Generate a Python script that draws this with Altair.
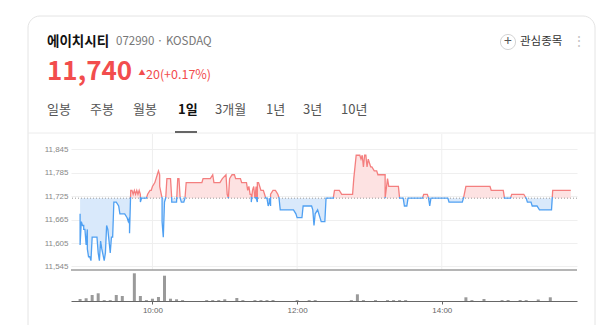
import altair as alt
import pandas as pd

# ---------------- data ----------------
stock_name = "에이치시티"
stock_code = "072990 · KOSDAQ"
last_price = "11,740"
change_text = "20(+0.17%)"
prev_close = 11720
tabs = ["일봉", "주봉", "월봉", "1일", "3개월", "1년", "3년", "10년"]

price_times = [
    "09:00", "09:00", "09:01", "09:02", "09:03", "09:03", "09:04", "09:05", "09:06", "09:06",
    "09:07", "09:08", "09:09", "09:10", "09:11", "09:14", "09:15", "09:16", "09:17", "09:18",
    "09:20", "09:21", "09:22", "09:23", "09:24", "09:25", "09:26", "09:27", "09:28", "09:29",
    "09:30", "09:32", "09:33", "09:37", "09:39", "09:40", "09:41", "09:41", "09:42", "09:43",
    "09:44", "09:45", "09:46", "09:47", "09:48", "09:49", "09:50", "09:50", "09:51", "09:52",
    "09:55", "09:56", "09:58", "09:59", "10:00", "10:02", "10:04", "10:05", "10:06", "10:06",
    "10:08", "10:08", "10:09", "10:10", "10:11", "10:12", "10:15", "10:16", "10:16", "10:20",
    "10:21", "10:22", "10:23", "10:24", "10:26", "10:27", "10:28", "10:41", "10:42", "10:48",
    "10:50", "10:51", "10:56", "10:58", "11:01", "11:02", "11:03", "11:04", "11:06", "11:08",
    "11:09", "11:13", "11:14", "11:18", "11:19", "11:20", "11:21", "11:22", "11:22", "11:23",
    "11:24", "11:25", "11:26", "11:26", "11:27", "11:27", "11:28", "11:29", "11:30", "11:32",
    "11:33", "11:34", "11:35", "11:36", "11:37", "11:37", "11:38", "11:38", "11:40", "11:42",
    "11:44", "11:45", "11:46", "11:48", "11:57", "11:59", "12:00", "12:04", "12:05", "12:12",
    "12:13", "12:14", "12:15", "12:17", "12:18", "12:20", "12:23", "12:24", "12:30", "12:31",
    "12:35", "12:37", "12:46", "12:47", "12:49", "12:50", "12:52", "12:53", "12:54", "12:55",
    "12:56", "12:57", "12:58", "12:59", "13:00", "13:01", "13:02", "13:04", "13:06", "13:07",
    "13:11", "13:12", "13:13", "13:13", "13:15", "13:16", "13:24", "13:25", "13:28", "13:29",
    "13:31", "13:32", "13:44", "13:45", "13:48", "13:49", "13:50", "13:51", "14:05", "14:06",
    "14:17", "14:18", "14:20", "14:40", "14:41", "14:51", "14:52", "14:57", "14:58", "15:08",
    "15:10", "15:11", "15:14", "15:15", "15:19", "15:21", "15:31", "15:32", "15:47",
]
prices = [
    11680, 11600, 11660, 11650, 11650, 11640, 11640, 11600, 11640, 11590,
    11570, 11570, 11560, 11620, 11620, 11620, 11580, 11560, 11610, 11590,
    11560, 11580, 11650, 11640, 11610, 11580, 11620, 11620, 11710, 11710,
    11710, 11700, 11680, 11680, 11670, 11660, 11670, 11630, 11740, 11740,
    11730, 11740, 11730, 11740, 11730, 11740, 11730, 11710, 11720, 11720,
    11720, 11730, 11740, 11740, 11750, 11760, 11780, 11790, 11780, 11750,
    11720, 11660, 11620, 11710, 11720, 11770, 11770, 11720, 11710, 11710,
    11770, 11770, 11720, 11710, 11710, 11720, 11760, 11760, 11770, 11770,
    11780, 11760, 11760, 11770, 11780, 11730, 11720, 11770, 11780, 11780,
    11770, 11770, 11760, 11760, 11740, 11750, 11730, 11730, 11710, 11740,
    11750, 11720, 11750, 11720, 11710, 11760, 11760, 11750, 11740, 11740,
    11730, 11720, 11720, 11700, 11710, 11720, 11700, 11730, 11740, 11740,
    11730, 11720, 11690, 11690, 11690, 11680, 11670, 11670, 11700, 11700,
    11690, 11650, 11680, 11690, 11680, 11660, 11660, 11720, 11720, 11740,
    11740, 11730, 11730, 11770, 11830, 11830, 11830, 11820, 11830, 11800,
    11830, 11830, 11800, 11820, 11810, 11800, 11800, 11790, 11790, 11780,
    11780, 11780, 11780, 11720, 11770, 11750, 11750, 11720, 11720, 11700,
    11700, 11720, 11720, 11730, 11730, 11720, 11700, 11720, 11720, 11710,
    11710, 11720, 11750, 11750, 11740, 11740, 11720, 11720, 11730, 11730,
    11720, 11710, 11710, 11700, 11700, 11690, 11690, 11740, 11740,
]

vol_times = [
    "09:00", "09:05", "09:10", "09:15", "09:20", "09:25", "09:30", "09:35", "09:45", "09:50",
    "09:55", "10:00", "10:05", "10:10", "10:15", "10:20", "10:25", "10:45", "10:50", "10:55",
    "11:00", "11:10", "11:15", "11:25", "11:30", "11:35", "11:40", "12:00", "12:10", "12:15",
    "12:45", "12:50", "12:55", "13:05", "13:15", "13:20", "13:25", "13:30", "14:20", "14:25",
    "14:35", "14:50", "14:55", "15:05", "15:10", "15:20", "15:30",
]
volumes = [
    2000, 2700, 6000, 7700, 900, 900, 6000, 5000, 27700, 5000,
    900, 2300, 4000, 25300, 2300, 1700, 900, 900, 900, 900,
    1700, 3000, 900, 900, 900, 900, 1000, 900, 900, 900,
    900, 6700, 900, 900, 900, 900, 900, 900, 3700, 900,
    2000, 900, 1000, 1000, 900, 1500, 3700,
]

y_ticks = [11545, 11605, 11665, 11725, 11785, 11845]
x_ticks = ["10:00", "12:00", "14:00"]


def to_min(t):
    h, m = t.split(":")
    return int(h) * 60 + int(m)


price_df = pd.DataFrame({"t": price_times, "price": prices})
price_df["m"] = price_df["t"].map(to_min)
price_df["i"] = range(len(price_df))
vol_df = pd.DataFrame({"t": vol_times, "vol": volumes})
vol_df["m"] = vol_df["t"].map(to_min)
grid_df = pd.DataFrame({"m": [to_min(t) for t in x_ticks]})
one = pd.DataFrame({"a": [0]})

# ---------------- layout / style ----------------
W, H = 506, 168          # plot (price + volume)
PH = 137                 # price panel height
KR = "Noto Sans CJK KR"
RED, RED_LINE, RED_FILL = "#f24d4d", "#f47f7f", "#fde2e2"
BLUE_LINE, BLUE_FILL = "#4fa0f2", "#d9e9fb"

xs = alt.Scale(domain=[536.6, 948], nice=False, zero=False)
ys = alt.Scale(domain=[11536, 11887], range=[PH, 0], nice=False, zero=False)
vs = alt.Scale(domain=[0, 28000], range=[H, H - 28], nice=False)

x_axis = alt.Axis(
    values=[to_min(t) for t in x_ticks],
    labelExpr="floor(datum.value/60) + ':' + (datum.value % 60 < 10 ? '0' : '') + (datum.value % 60)",
    grid=False, domainColor="#666", tickColor="#666", tickSize=3,
    labelFontSize=8, labelColor="#666", labelFont="Liberation Sans",
    labelPadding=2, title=None,
)


def xenc():
    return alt.X("m:Q", scale=xs, axis=x_axis)


hi, lo = max(prices), min(prices)
off = (hi - prev_close) / (hi - lo)


def grad(top, bottom, o):
    return alt.Gradient(
        gradient="linear",
        stops=[
            alt.GradientStop(color=top, offset=0),
            alt.GradientStop(color=top, offset=o),
            alt.GradientStop(color=bottom, offset=o),
            alt.GradientStop(color=bottom, offset=1),
        ],
        x1=0, x2=0, y1=0, y2=1,
    )


def txt(s, x, y, size, color, weight="normal", align="left", baseline="middle", font=KR):
    return alt.Chart(one).mark_text(
        text=s, align=align, baseline=baseline, fontSize=size,
        color=color, fontWeight=weight, font=font,
    ).encode(x=alt.value(x), y=alt.value(y))


layers = []

# card + header
layers.append(alt.Chart(one).mark_rect(
    fillOpacity=0, stroke="#e4e4e4", strokeWidth=1, cornerRadius=12
).encode(x=alt.value(-43), x2=alt.value(524), y=alt.value(-117), y2=alt.value(240)))

layers.append(txt(stock_name, -24, -91, 13.5, "#111", weight="bold"))
layers.append(txt(stock_code, 45, -91, 11.5, "#777"))
layers.append(txt(last_price, -24, -53, 26, RED, weight="bold", baseline="alphabetic"))
layers.append(txt("▲", 71, -60, 7, RED, align="center"))
layers.append(txt(change_text, 75, -54, 12.5, RED, baseline="alphabetic"))

layers.append(alt.Chart(one).mark_point(
    shape="circle", size=230, filled=True, fill="white", stroke="#d4d4d4", strokeWidth=1, opacity=1
).encode(x=alt.value(437), y=alt.value(-91)))
layers.append(txt("+", 437, -91.5, 14, "#555", align="center"))
layers.append(txt("관심종목", 449, -91, 11.5, "#333"))
layers.append(txt("⋮", 508, -91, 14, "#c4c4c4", align="center"))

tab_x = [-24, 19, 62, 107, 144, 195, 232, 270]
for name, tx in zip(tabs, tab_x):
    if name == "1일":
        layers.append(txt(name, tx, -23, 13, "#111", weight="bold"))
    else:
        layers.append(txt(name, tx, -23, 13, "#555"))

# divider under tabs and active-tab underline
layers.append(alt.Chart(one).mark_rule(color="#ececec", strokeWidth=1).encode(
    x=alt.value(-43), x2=alt.value(524), y=alt.value(0)))
layers.append(alt.Chart(one).mark_rule(color="#666", strokeWidth=2).encode(
    x=alt.value(104), x2=alt.value(126), y=alt.value(-1)))

# vertical gridlines (price panel only)
layers.append(alt.Chart(grid_df).mark_rule(color="#efefef", strokeWidth=1).encode(
    x=xenc(), y=alt.value(1), y2=alt.value(PH)))

# price areas, split at previous close
y_axis = alt.Axis(
    values=y_ticks, format=",d", grid=True, gridColor="#efefef",
    ticks=False, domain=False, labelFontSize=8, labelColor="#888",
    labelFont="Liberation Sans", labelPadding=3, title=None)

layers.append(alt.Chart(price_df).transform_calculate(
    up=f"max(datum.price, {prev_close})"
).mark_area(color=RED_FILL, opacity=1, interpolate="linear").encode(
    x=xenc(),
    y=alt.Y("up:Q", scale=ys, stack=None, axis=y_axis),
    y2=alt.datum(prev_close),
))
layers.append(alt.Chart(price_df).transform_calculate(
    dn=f"min(datum.price, {prev_close})"
).mark_area(color=BLUE_FILL, opacity=1, interpolate="linear").encode(
    x=xenc(),
    y=alt.Y("dn:Q", scale=ys, stack=None, axis=None),
    y2=alt.datum(prev_close),
))

# dotted previous-close line
layers.append(alt.Chart(one).mark_rule(color="#9a9a9a", strokeDash=[1, 2], strokeWidth=1).encode(
    y=alt.YDatum(prev_close, scale=ys, axis=None)))

# price line
layers.append(alt.Chart(price_df).mark_line(
    stroke=grad(RED_LINE, BLUE_LINE, off - 0.012), strokeWidth=1.3, interpolate="linear"
).encode(
    x=xenc(),
    y=alt.Y("price:Q", scale=ys, axis=None),
    order="i:Q",
))

# separator between price and volume
layers.append(alt.Chart(one).mark_rule(color="#9c9c9c", strokeWidth=1.5).encode(
    x=alt.value(0), x2=alt.value(W), y=alt.value(PH)))

# volume bars
layers.append(alt.Chart(vol_df).mark_bar(size=3, color="#9a9a9a").encode(
    x=xenc(),
    y=alt.Y("vol:Q", scale=vs, axis=None),
))

chart = alt.layer(*layers).resolve_scale(y="independent").properties(
    width=W, height=H,
    autosize=alt.AutoSizeParams(type="none"),
    padding={"left": 71, "top": 133, "right": 23, "bottom": 24},
    background="white",
).configure_view(stroke=None)

chart.save("out.html", embed_options={"renderer": "svg", "actions": False})
